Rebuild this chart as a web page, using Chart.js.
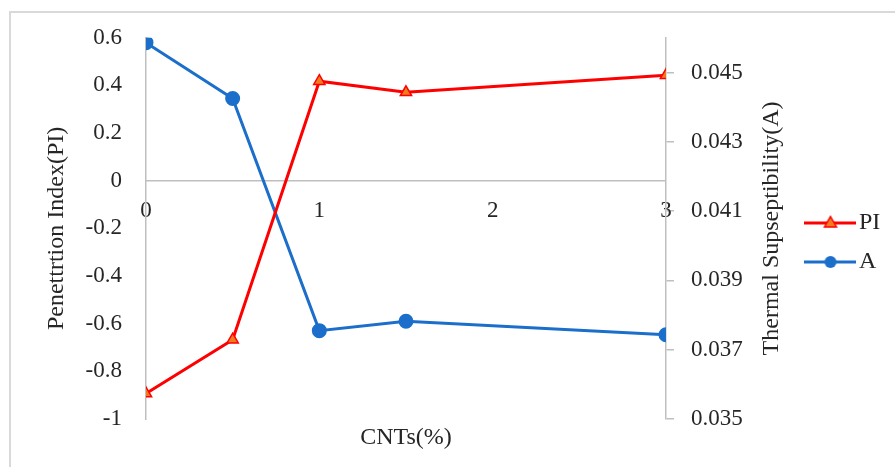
<!DOCTYPE html>
<html lang="en">
<head>
    <meta charset="UTF-8">
    <title>PI e A x CNTs</title>
    <script src="https://cdn.jsdelivr.net/npm/chart.js"></script>
    <style>
        html, body { margin: 0; padding: 0; background: #fff; overflow: hidden; }
        .moldura {
            position: absolute; left: 9px; top: 11px; width: 886px; height: 456px;
            border-top: 2px solid #d9d9d9; border-left: 2px solid #d9d9d9;
        }
        .grafico { position: absolute; left: 0; top: 0; width: 895px; height: 467px; }
    </style>
</head>
<body>
    <div class="moldura"></div>
    <div class="grafico"><canvas id="graficoCNT" width="895" height="467"></canvas></div>

<script>
    // dados
    const cntValores = [0, 0.5, 1, 1.5, 3];
    const piValores = [-0.893, -0.667, 0.418, 0.371, 0.443];
    const aValores = [0.04586, 0.04425, 0.03755, 0.03782, 0.03743];

    const xTicks = [0, 1, 2, 3];
    const piTicks = [-1, -0.8, -0.6, -0.4, -0.2, 0, 0.2, 0.4, 0.6];
    const aTicks = [0.035, 0.037, 0.039, 0.041, 0.043, 0.045];

    const corTexto = '#262626';
    const corEixo = '#bfbfbf';
    const vermelho = '#ff0000';
    const laranja = '#f07c20';
    const azul = '#1b6fca';
    const fonteTick = { family: 'Liberation Serif', size: 23 };
    const fonteTitulo = { family: 'Liberation Serif', size: 24, lineHeight: 1 };

    // imagem da legenda: linha com marcador no meio
    function iconeLegenda(cor, preenchimento, tipo) {
        const c = document.createElement('canvas');
        c.width = 52; c.height = 16;
        const ctx = c.getContext('2d');
        ctx.strokeStyle = cor;
        ctx.lineWidth = 3;
        ctx.beginPath(); ctx.moveTo(0, 8); ctx.lineTo(52, 8); ctx.stroke();
        ctx.fillStyle = preenchimento;
        ctx.beginPath();
        if (tipo === 'triangle') {
            ctx.moveTo(26, 1.5); ctx.lineTo(32, 12); ctx.lineTo(20, 12); ctx.closePath();
            ctx.fill(); ctx.lineWidth = 1.5; ctx.stroke();
        } else {
            ctx.arc(26, 8, 6, 0, Math.PI * 2);
            ctx.fill();
        }
        return c;
    }

    const tituloDireita = {
        id: 'tituloDireita',
        afterDraw(chart) {
            const s = chart.scales.y1;
            const ctx = chart.ctx;
            ctx.save();
            ctx.translate(s.left + 106, (s.top + s.bottom) / 2);
            ctx.rotate(-Math.PI / 2);
            ctx.font = '24px "Liberation Serif"';
            ctx.fillStyle = corTexto;
            ctx.textAlign = 'center';
            ctx.textBaseline = 'middle';
            ctx.fillText('Thermal Supseptibility(A)', 0, 0);
            ctx.restore();
        }
    };

    const dados = {
        datasets: [
            {
                label: 'PI',
                data: cntValores.map((x, i) => ({ x: x, y: piValores[i] })),
                yAxisID: 'y',
                borderColor: vermelho,
                borderWidth: 3,
                pointStyle: 'triangle',
                pointRadius: 6.5,
                pointBackgroundColor: laranja,
                pointBorderColor: vermelho,
                pointBorderWidth: 1.5,
                tension: 0
            },
            {
                label: 'A',
                data: cntValores.map((x, i) => ({ x: x, y: aValores[i] })),
                yAxisID: 'y1',
                borderColor: azul,
                borderWidth: 3,
                pointStyle: 'circle',
                pointRadius: 6,
                pointBackgroundColor: azul,
                pointBorderColor: azul,
                tension: 0
            }
        ]
    };

    const icones = [iconeLegenda(vermelho, laranja, 'triangle'), iconeLegenda(azul, azul, 'circle')];

    new Chart(document.getElementById('graficoCNT'), {
        type: 'line',
        data: dados,
        plugins: [tituloDireita],
        options: {
            responsive: false,
            animation: false,
            layout: { padding: { left: 0, top: 35, right: 4.7, bottom: 17 } },
            plugins: {
                tooltip: { enabled: false },
                title: {
                    display: true,
                    text: 'CNTs(%)',
                    position: 'bottom',
                    fullSize: false,
                    color: corTexto,
                    font: { family: 'Liberation Serif', size: 24, weight: 'normal', lineHeight: 1 },
                    padding: { top: 7, bottom: 0 }
                },
                legend: {
                    position: 'right',
                    labels: {
                        usePointStyle: true,
                        pointStyleWidth: 33,
                        padding: 15,
                        color: corTexto,
                        font: { family: 'Liberation Serif', size: 24 },
                        generateLabels: (chart) => chart.data.datasets.map((d, i) => ({
                            text: d.label,
                            pointStyle: icones[i],
                            fillStyle: d.borderColor,
                            strokeStyle: d.borderColor,
                            lineWidth: 0,
                            fontColor: corTexto,
                            datasetIndex: i
                        }))
                    }
                }
            },
            scales: {
                x: {
                    type: 'linear',
                    min: 0,
                    max: 3,
                    position: { y: 0 },
                    afterBuildTicks: (s) => { s.ticks = xTicks.map(v => ({ value: v })); },
                    grid: { display: false, drawTicks: false },
                    border: { display: true, color: corEixo, width: 1.5 },
                    ticks: { padding: 16, color: corTexto, font: fonteTick, maxRotation: 0 }
                },
                y: {
                    position: 'left',
                    min: -1,
                    max: 0.6,
                    afterBuildTicks: (s) => { s.ticks = piTicks.map(v => ({ value: v })); },
                    afterFit: (s) => { s.width = 146; },
                    grid: { display: false, drawTicks: false },
                    border: { display: true, color: corEixo, width: 1.5 },
                    ticks: {
                        padding: 24, color: corTexto, font: fonteTick,
                        callback: (v) => String(Math.round(v * 10) / 10)
                    },
                    title: {
                        display: true,
                        text: 'Penettrtion Index(PI)',
                        color: corTexto,
                        font: fonteTitulo,
                        padding: { top: 45, bottom: 0 }
                    }
                },
                y1: {
                    position: 'right',
                    min: 0.035,
                    max: 0.046,
                    afterBuildTicks: (s) => { s.ticks = aTicks.map(v => ({ value: v })); },
                    afterFit: (s) => { s.width = 133; },
                    grid: { drawOnChartArea: false, drawTicks: true, tickLength: 8, color: corEixo, lineWidth: 1.5 },
                    border: { display: true, color: corEixo, width: 1.5 },
                    ticks: {
                        padding: 17, color: corTexto, font: fonteTick,
                        callback: (v) => v.toFixed(3)
                    }
                }
            }
        }
    });
</script>
</body>
</html>
